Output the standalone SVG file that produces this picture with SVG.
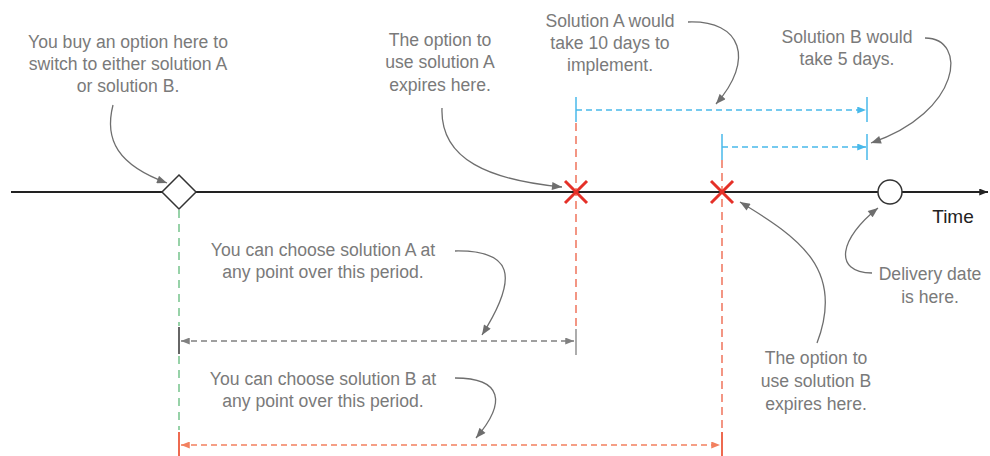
<svg xmlns="http://www.w3.org/2000/svg" width="990" height="456" viewBox="0 0 990 456">
<style>
.lbl{font-family:"Liberation Sans",Arial,sans-serif;font-size:17.6px;fill:#7a7a7a;text-anchor:middle}
.call{fill:none;stroke:#6e6e6e;stroke-width:1.3}
.blue{stroke:#48b9ea;stroke-width:1.5;fill:none}
.bdash{stroke-dasharray:6 4}
.red{stroke:#ee6a50;stroke-width:1.4;stroke-dasharray:8 5;fill:none}
.green{stroke:#6cbf84;stroke-width:1.4;stroke-dasharray:8 6;fill:none}
.xmark{stroke:#e53028;stroke-width:3;stroke-linecap:butt}
</style>
<defs>
<marker id="ah" viewBox="0 0 10 8" refX="10" refY="4" markerWidth="11" markerHeight="8" markerUnits="userSpaceOnUse" orient="auto">
<path d="M0,0 L10,4 L0,8 z" fill="#6e6e6e"/>
</marker>
<marker id="ahG" viewBox="0 0 10 8" refX="10" refY="4" markerWidth="9" markerHeight="7" markerUnits="userSpaceOnUse" orient="auto-start-reverse">
<path d="M0,0 L10,4 L0,8 z" fill="#808080"/>
</marker>
<marker id="ahO" viewBox="0 0 10 8" refX="10" refY="4" markerWidth="9" markerHeight="7" markerUnits="userSpaceOnUse" orient="auto-start-reverse">
<path d="M0,0 L10,4 L0,8 z" fill="#f2805f"/>
</marker>
<marker id="ahB" viewBox="0 0 10 8" refX="10" refY="4" markerWidth="9" markerHeight="7" markerUnits="userSpaceOnUse" orient="auto">
<path d="M0,0 L10,4 L0,8 z" fill="#48b9ea"/>
</marker>
<marker id="ahK" viewBox="0 0 10 8" refX="10" refY="4" markerWidth="9" markerHeight="7" markerUnits="userSpaceOnUse" orient="auto">
<path d="M0,0 L10,4 L0,8 z" fill="#222"/>
</marker>
</defs>

<g id="guides">
<line class="green" x1="179" y1="210" x2="179" y2="326"/>
<line class="green" x1="179" y1="356" x2="179" y2="430"/>
<line class="red" x1="576" y1="123" x2="576" y2="328"/>
<line class="red" x1="722" y1="160" x2="722" y2="430"/>
</g>

<g id="timeline">
<line x1="11" y1="192" x2="988" y2="192" stroke="#222" stroke-width="2" marker-end="url(#ahK)"/>
<text x="953" y="223" font-family="'Liberation Sans',Arial,sans-serif" font-size="19" fill="#222" text-anchor="middle">Time</text>
</g>

<g id="buy-node">
<path d="M179,175 L196,192 L179,209 L162,192 Z" fill="#fff" stroke="#333" stroke-width="1.5"/>
</g>
<g id="expireA-node">
<line class="xmark" x1="565" y1="181" x2="587" y2="203"/>
<line class="xmark" x1="587" y1="181" x2="565" y2="203"/>
</g>
<g id="expireB-node">
<line class="xmark" x1="711" y1="181" x2="733" y2="203"/>
<line class="xmark" x1="733" y1="181" x2="711" y2="203"/>
</g>
<g id="delivery-node">
<circle cx="890" cy="192" r="12" fill="#fff" stroke="#333" stroke-width="1.5"/>
</g>

<g id="spans">
<line class="blue" x1="576" y1="97" x2="576" y2="122"/>
<line class="blue bdash" x1="576" y1="110" x2="866" y2="110" marker-end="url(#ahB)"/>
<line class="blue" x1="867" y1="97" x2="867" y2="122"/>
<line class="blue" x1="722" y1="134" x2="722" y2="160"/>
<line class="blue bdash" x1="722" y1="147" x2="866" y2="147" marker-end="url(#ahB)"/>
<line class="blue" x1="867" y1="134" x2="867" y2="160"/>
<line x1="179" y1="327" x2="179" y2="354" stroke="#666" stroke-width="2"/>
<line x1="181" y1="341" x2="574" y2="341" stroke="#808080" stroke-width="1.4" stroke-dasharray="6 4" marker-start="url(#ahG)" marker-end="url(#ahG)"/>
<line x1="576" y1="329" x2="576" y2="355" stroke="#808080" stroke-width="1.3"/>
<line x1="179" y1="432" x2="179" y2="456" stroke="#ee6a50" stroke-width="2"/>
<line x1="181" y1="445" x2="720" y2="445" stroke="#f2805f" stroke-width="1.4" stroke-dasharray="6 4" marker-start="url(#ahO)" marker-end="url(#ahO)"/>
<line x1="722" y1="432" x2="722" y2="456" stroke="#ee6a50" stroke-width="2"/>
</g>

<g id="connectors">
<path class="call" d="M113,105 C104,140 118,165 167,183" marker-end="url(#ah)"/>
<path class="call" d="M442,108 C440,160 490,180 562,187" marker-end="url(#ah)"/>
<path class="call" d="M688,22 C742,20 755,60 716,104" marker-end="url(#ah)"/>
<path class="call" d="M925,38 C968,38 962,112 871,143" marker-end="url(#ah)"/>
<path class="call" d="M455,251 C512,250 520,275 482,335" marker-end="url(#ah)"/>
<path class="call" d="M455,378 C502,378 507,402 476,438" marker-end="url(#ah)"/>
<path class="call" d="M817,343 C845,270 800,238 740,202" marker-end="url(#ah)"/>
<path class="call" d="M872,273 C832,272 840,238 878,208" marker-end="url(#ah)"/>
</g>

<g id="label-buy">
<text class="lbl" x="128" y="48">You buy an option here to</text>
<text class="lbl" x="128" y="70">switch to either solution A</text>
<text class="lbl" x="128" y="92">or solution B.</text>
</g>
<g id="label-expireA">
<text class="lbl" x="440" y="46">The option to</text>
<text class="lbl" x="440" y="68">use solution A</text>
<text class="lbl" x="440" y="91">expires here.</text>
</g>
<g id="label-solA">
<text class="lbl" x="610" y="27">Solution A would</text>
<text class="lbl" x="610" y="49">take 10 days to</text>
<text class="lbl" x="610" y="71">implement.</text>
</g>
<g id="label-solB">
<text class="lbl" x="847" y="43">Solution B would</text>
<text class="lbl" x="847" y="65">take 5 days.</text>
</g>
<g id="label-chooseA">
<text class="lbl" x="323" y="256">You can choose solution A at</text>
<text class="lbl" x="323" y="278">any point over this period.</text>
</g>
<g id="label-chooseB">
<text class="lbl" x="323" y="385">You can choose solution B at</text>
<text class="lbl" x="323" y="407">any point over this period.</text>
</g>
<g id="label-expireB">
<text class="lbl" x="816" y="364">The option to</text>
<text class="lbl" x="816" y="387">use solution B</text>
<text class="lbl" x="816" y="410">expires here.</text>
</g>
<g id="label-delivery">
<text class="lbl" x="930" y="280">Delivery date</text>
<text class="lbl" x="930" y="303">is here.</text>
</g>
</svg>
